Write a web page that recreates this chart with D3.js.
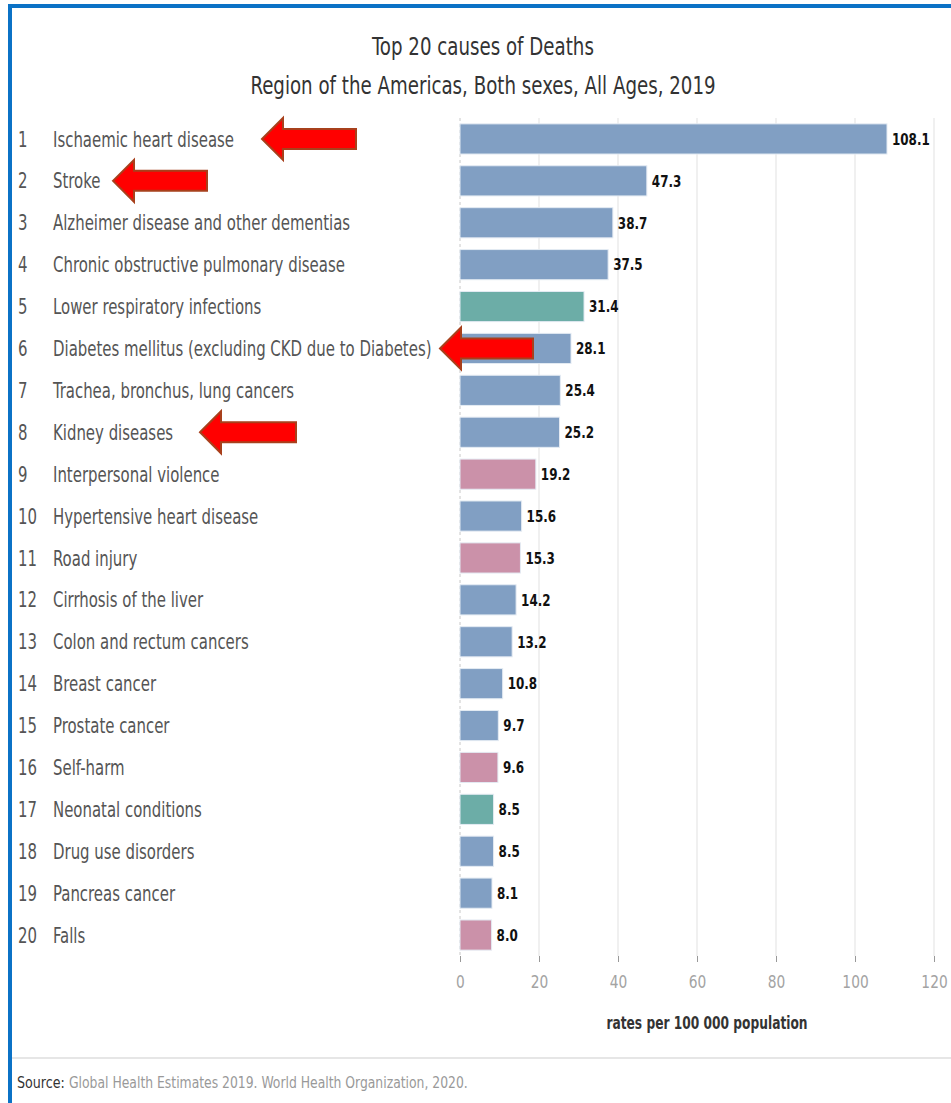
<!DOCTYPE html>
<html>
<head>
<meta charset="utf-8">
<script src="https://cdn.jsdelivr.net/npm/d3@7"></script>
<style>
  body { margin: 0; background: #fff; }
  svg text { font-family: "DejaVu Sans Condensed", "DejaVu Sans", sans-serif; }
</style>
</head>
<body>
<div id="chart"></div>
<script>
// dati
const causes = [
    "Ischaemic heart disease",
    "Stroke",
    "Alzheimer disease and other dementias",
    "Chronic obstructive pulmonary disease",
    "Lower respiratory infections",
    "Diabetes mellitus (excluding CKD due to Diabetes)",
    "Trachea, bronchus, lung cancers",
    "Kidney diseases",
    "Interpersonal violence",
    "Hypertensive heart disease",
    "Road injury",
    "Cirrhosis of the liver",
    "Colon and rectum cancers",
    "Breast cancer",
    "Prostate cancer",
    "Self-harm",
    "Neonatal conditions",
    "Drug use disorders",
    "Pancreas cancer",
    "Falls"
];
const rates = [108.1, 47.3, 38.7, 37.5, 31.4, 28.1, 25.4, 25.2, 19.2, 15.6,
               15.3, 14.2, 13.2, 10.8, 9.7, 9.6, 8.5, 8.5, 8.1, 8.0];
const groups = ["ncd", "ncd", "ncd", "ncd", "comm", "ncd", "ncd", "ncd", "inj", "ncd",
                "inj", "ncd", "ncd", "ncd", "ncd", "inj", "comm", "ncd", "ncd", "inj"];
const xTicks = [0, 20, 40, 60, 80, 100, 120];
// frecce rosse: riga e posizione della punta / coda
const arrowRows = [0, 1, 5, 7];
const arrowTips = [262, 113, 440, 200];
const arrowTails = [356, 207, 533, 296];

const width = 951, height = 1103;
const data = causes.map((c, i) => ({ rank: i + 1, cause: c, rate: rates[i], group: groups[i] }));

// stringe il testo in orizzontale (il font originale è condensato)
function condense(sel, k) {
    sel.each(function () {
        const w = this.getComputedTextLength();
        this.setAttribute("textLength", w * k);
        this.setAttribute("lengthAdjust", "spacingAndGlyphs");
    });
}

const svg = d3.select("#chart").append("svg")
    .attr("width", width)
    .attr("height", height);

// bordo blu
svg.append("rect").attr("x", 8).attr("y", 4).attr("width", width).attr("height", 4).attr("fill", "#0b72c6");
svg.append("rect").attr("x", 8).attr("y", 4).attr("width", 4).attr("height", height).attr("fill", "#0b72c6");

// titolo
const titles = svg.append("g").attr("fill", "#333").attr("font-size", 25).attr("text-anchor", "middle");
titles.append("text").attr("x", 483).attr("y", 55).text("Top 20 causes of Deaths");
titles.append("text").attr("x", 483).attr("y", 94).text("Region of the Americas, Both sexes, All Ages, 2019");
condense(titles.selectAll("text"), 0.81);

const plotTop = 118, plotBottom = 956;
const x = d3.scaleLinear().domain([0, 120]).range([460, 934]);
const y = d3.scaleBand().domain(data.map(d => d.rank)).range([plotTop, plotBottom]).paddingInner(0.28).paddingOuter(0.14);
const color = d3.scaleOrdinal().domain(["ncd", "comm", "inj"]).range(["#819fc3", "#6cada7", "#cb91a9"]);

// griglia verticale
svg.append("g").selectAll("line").data(xTicks.slice(1)).enter().append("line")
    .attr("x1", d => x(d)).attr("x2", d => x(d))
    .attr("y1", plotTop).attr("y2", plotBottom)
    .attr("stroke", "#ebebeb").attr("stroke-width", 1.5);

// linea di base tratteggiata
svg.append("line").attr("x1", x(0)).attr("x2", x(0)).attr("y1", plotTop).attr("y2", plotBottom)
    .attr("stroke", "#c8c8c8").attr("stroke-dasharray", "3,3");

// barre
svg.append("g").selectAll("rect").data(data).enter().append("rect")
    .attr("x", x(0))
    .attr("y", d => y(d.rank))
    .attr("width", d => x(d.rate) - x(0))
    .attr("height", y.bandwidth())
    .attr("fill", d => color(d.group))
    .attr("stroke", "#e4ebf3").attr("stroke-width", 1);

// valori
const values = svg.append("g").selectAll("text").data(data).enter().append("text")
    .attr("x", d => x(d.rate) + 5)
    .attr("y", d => y(d.rank) + y.bandwidth() / 2)
    .attr("dy", "0.36em")
    .attr("font-size", 16).attr("font-weight", "bold").attr("fill", "#111")
    .text(d => d.rate.toFixed(1));
condense(values, 0.83);

// numeri e nomi
const ranks = svg.append("g").selectAll("text").data(data).enter().append("text")
    .attr("x", 18)
    .attr("y", d => y(d.rank) + y.bandwidth() / 2)
    .attr("dy", "0.36em")
    .attr("font-size", 21).attr("fill", "#555")
    .text(d => d.rank);
condense(ranks, 0.79);
const labels = svg.append("g").selectAll("text").data(data).enter().append("text")
    .attr("x", 53)
    .attr("y", d => y(d.rank) + y.bandwidth() / 2)
    .attr("dy", "0.36em")
    .attr("font-size", 21).attr("fill", "#555")
    .text(d => d.cause);
condense(labels, 0.79);

// asse x
const xAxis = svg.append("g")
    .attr("transform", `translate(0,${plotBottom})`)
    .call(d3.axisBottom(x).tickValues(xTicks).tickSize(6).tickPadding(13));
xAxis.select(".domain").remove();
xAxis.selectAll(".tick line").attr("stroke", "#999");
xAxis.selectAll(".tick text").attr("font-size", 18).attr("fill", "#a3a3a3")
    .attr("font-family", "\"DejaVu Sans Condensed\", \"DejaVu Sans\", sans-serif");
condense(xAxis.selectAll(".tick text"), 0.85);

const xTitle = svg.append("text").attr("x", 707).attr("y", 1029).attr("text-anchor", "middle")
    .attr("font-size", 17).attr("font-weight", "bold").attr("fill", "#333")
    .text("rates per 100 000 population");
condense(xTitle, 0.8);

// separatore e fonte
svg.append("line").attr("x1", 12).attr("x2", width).attr("y1", 1058).attr("y2", 1058)
    .attr("stroke", "#e6e6e6").attr("stroke-width", 2);
const srcLabel = svg.append("text").attr("x", 17).attr("y", 1088).attr("font-size", 16)
    .attr("fill", "#333").text("Source:");
condense(srcLabel, 0.88);
const srcText = svg.append("text").attr("x", 69).attr("y", 1088).attr("font-size", 16)
    .attr("fill", "#999").text("Global Health Estimates 2019. World Health Organization, 2020.");
condense(srcText, 0.86);

// frecce
const arrows = arrowRows.map((r, i) => ({ row: r + 1, tip: arrowTips[i], tail: arrowTails[i] }));
svg.append("g").selectAll("path").data(arrows).enter().append("path")
    .attr("d", d => {
        const cy = y(d.row) + y.bandwidth() / 2;
        const hx = d.tip + 21;
        return `M${d.tip},${cy} L${hx},${cy - 21} L${hx},${cy - 10} L${d.tail},${cy - 10} ` +
               `L${d.tail},${cy + 10} L${hx},${cy + 10} L${hx},${cy + 21} Z`;
    })
    .attr("fill", "#ff0000")
    .attr("stroke", "#a8401c").attr("stroke-width", 2);
</script>
</body>
</html>
